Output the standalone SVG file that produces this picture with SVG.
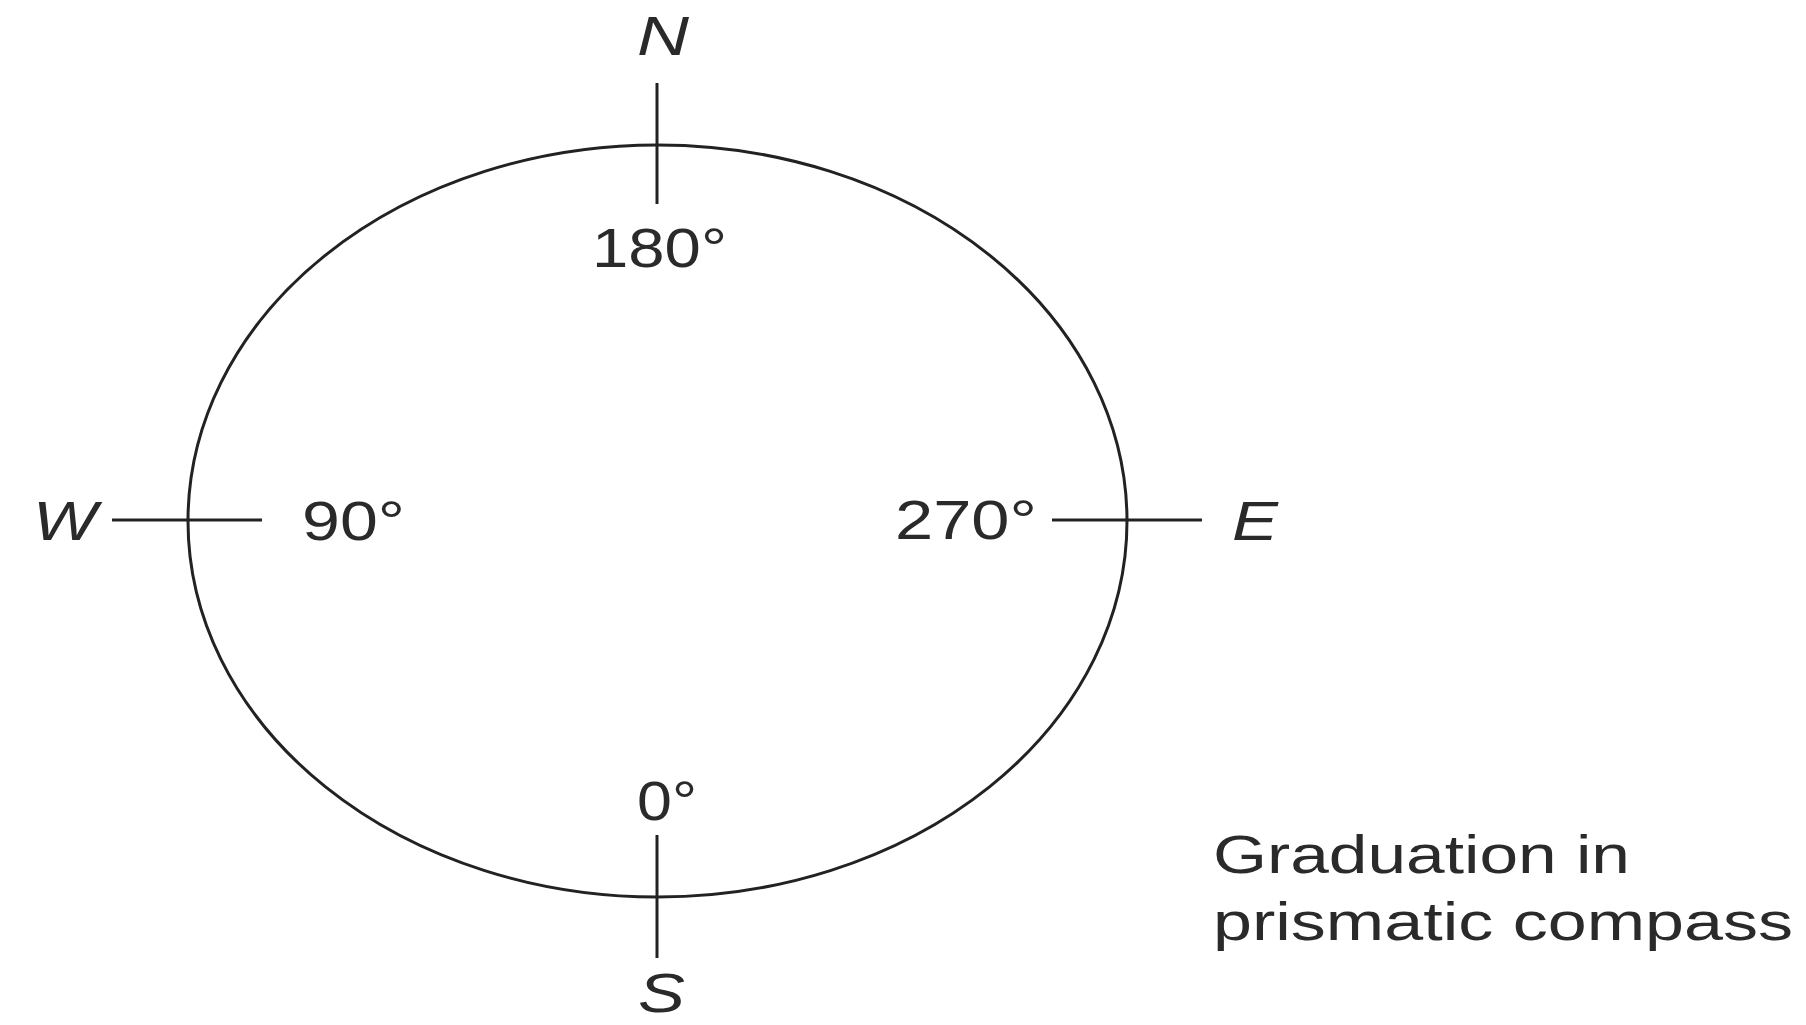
<svg xmlns="http://www.w3.org/2000/svg" width="1806" height="1025" viewBox="0 0 1806 1025">
<style>
.ln{stroke:#222;stroke-width:3;fill:none}
.t{font-family:"Liberation Sans",Arial,sans-serif;font-size:56px;fill:#2a2a2a}
.cap{font-size:54px}
.it{font-style:italic}
</style>
<rect width="1806" height="1025" fill="#fff"/>
<g id="compass">
<ellipse class="ln" cx="657.5" cy="521" rx="469.5" ry="376"/>
</g>
<g id="connectors">
<line class="ln" x1="657" y1="83" x2="657" y2="204"/>
<line class="ln" x1="657" y1="835" x2="657" y2="958"/>
<line class="ln" x1="112" y1="520" x2="262" y2="520"/>
<line class="ln" x1="1052" y1="520" x2="1202" y2="520"/>
</g>
<g id="labels">
<text class="t it" x="637" y="55" textLength="52" lengthAdjust="spacingAndGlyphs">N</text>
<text class="t it" x="33" y="540" textLength="64" lengthAdjust="spacingAndGlyphs">W</text>
<text class="t it" x="1232" y="540" textLength="46" lengthAdjust="spacingAndGlyphs">E</text>
<text class="t it" x="638" y="1012" textLength="47" lengthAdjust="spacingAndGlyphs">S</text>
<text class="t" x="592" y="267" textLength="135" lengthAdjust="spacingAndGlyphs">180°</text>
<text class="t" x="302" y="540" textLength="103" lengthAdjust="spacingAndGlyphs">90°</text>
<text class="t" x="895" y="539" textLength="142" lengthAdjust="spacingAndGlyphs">270°</text>
<text class="t" x="637" y="820" textLength="60" lengthAdjust="spacingAndGlyphs">0°</text>
<text class="t cap" x="1213" y="873" textLength="417" lengthAdjust="spacingAndGlyphs">Graduation in</text>
<text class="t cap" x="1213" y="940" textLength="580" lengthAdjust="spacingAndGlyphs">prismatic compass</text>
</g>
</svg>
